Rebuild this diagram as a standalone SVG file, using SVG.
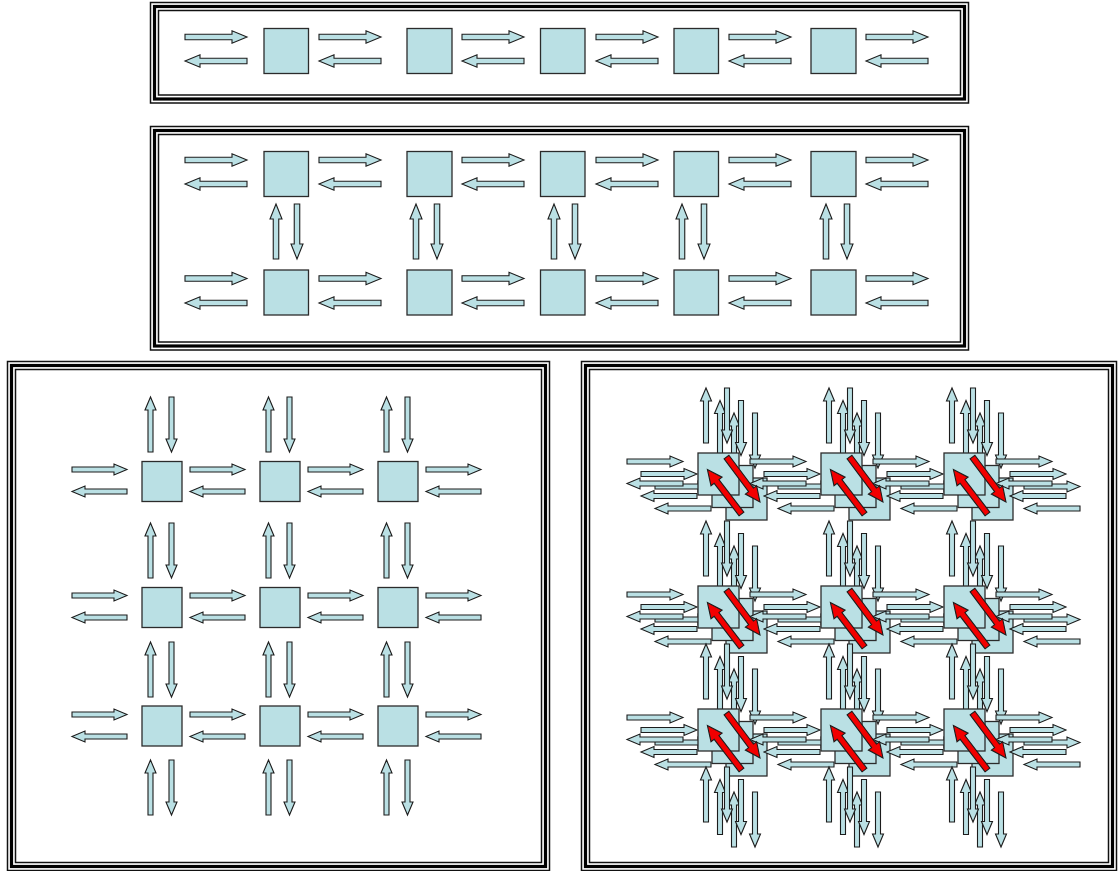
<svg xmlns="http://www.w3.org/2000/svg" width="1118" height="871" viewBox="0 0 1118 871">
<style>
.a{fill:#BAE0E4;stroke:#1c1c1c;stroke-width:1.1}
.n{fill:#BAE0E4;stroke:#2b2b2b;stroke-width:1.3}
.r{fill:#F20000;stroke:#1c1c1c;stroke-width:1.1}
.ft{fill:none;stroke:#111;stroke-width:1.5}
.fk{fill:none;stroke:#000;stroke-width:3.2}
</style>
<defs>
<path id="h62" d="M0,-2.75H47V-6.25L62,0L47,6.25V2.75H0Z"/>
<path id="v55" d="M0,-2.75H40V-6L55,0L40,6V2.75H0Z"/>
<path id="h55" d="M0,-2.5H42V-5.5L55,0L42,5.5V2.5H0Z"/>
<path id="h56" d="M0,-2.5H43V-5.5L56,0L43,5.5V2.5H0Z"/>
<path id="r55" d="M0,-3H41V-7L56,0L41,7V3H0Z"/>
<g id="m4">
<use href="#h56" x="627" y="461.5"/><use href="#h56" x="750" y="461.5"/><use href="#h56" x="873" y="461.5"/><use href="#h56" x="996" y="461.5"/>
<use href="#h56" transform="translate(683,483.5) rotate(180)"/><use href="#h56" transform="translate(806,483.5) rotate(180)"/><use href="#h56" transform="translate(929,483.5) rotate(180)"/><use href="#h56" transform="translate(1052,483.5) rotate(180)"/>
<use href="#h56" x="627" y="594.5"/><use href="#h56" x="750" y="594.5"/><use href="#h56" x="873" y="594.5"/><use href="#h56" x="996" y="594.5"/>
<use href="#h56" transform="translate(683,616.5) rotate(180)"/><use href="#h56" transform="translate(806,616.5) rotate(180)"/><use href="#h56" transform="translate(929,616.5) rotate(180)"/><use href="#h56" transform="translate(1052,616.5) rotate(180)"/>
<use href="#h56" x="627" y="717.5"/><use href="#h56" x="750" y="717.5"/><use href="#h56" x="873" y="717.5"/><use href="#h56" x="996" y="717.5"/>
<use href="#h56" transform="translate(683,739.5) rotate(180)"/><use href="#h56" transform="translate(806,739.5) rotate(180)"/><use href="#h56" transform="translate(929,739.5) rotate(180)"/><use href="#h56" transform="translate(1052,739.5) rotate(180)"/>
<use href="#h55" transform="translate(706,443) rotate(-90)"/><use href="#h55" transform="translate(829,443) rotate(-90)"/><use href="#h55" transform="translate(952,443) rotate(-90)"/>
<use href="#h55" transform="translate(727,388) rotate(90)"/><use href="#h55" transform="translate(850,388) rotate(90)"/><use href="#h55" transform="translate(973,388) rotate(90)"/>
<use href="#h55" transform="translate(706,576) rotate(-90)"/><use href="#h55" transform="translate(829,576) rotate(-90)"/><use href="#h55" transform="translate(952,576) rotate(-90)"/>
<use href="#h55" transform="translate(727,521) rotate(90)"/><use href="#h55" transform="translate(850,521) rotate(90)"/><use href="#h55" transform="translate(973,521) rotate(90)"/>
<use href="#h55" transform="translate(706,699) rotate(-90)"/><use href="#h55" transform="translate(829,699) rotate(-90)"/><use href="#h55" transform="translate(952,699) rotate(-90)"/>
<use href="#h55" transform="translate(727,644) rotate(90)"/><use href="#h55" transform="translate(850,644) rotate(90)"/><use href="#h55" transform="translate(973,644) rotate(90)"/>
<use href="#h55" transform="translate(706,822) rotate(-90)"/><use href="#h55" transform="translate(829,822) rotate(-90)"/><use href="#h55" transform="translate(952,822) rotate(-90)"/>
<use href="#h55" transform="translate(727,767) rotate(90)"/><use href="#h55" transform="translate(850,767) rotate(90)"/><use href="#h55" transform="translate(973,767) rotate(90)"/>
</g>
</defs>
<rect width="1118" height="871" fill="#fff"/>

<!-- Frames -->
<g id="frames">
<rect class="ft" x="150.5" y="2.5" width="818" height="100.5"/>
<rect class="fk" x="154.5" y="6.5" width="810" height="92.5"/>
<rect class="ft" x="158.5" y="10.5" width="802" height="84.5"/>
<rect class="ft" x="150.5" y="126.5" width="818" height="223.5"/>
<rect class="fk" x="154.5" y="130.5" width="810" height="215.5"/>
<rect class="ft" x="158.5" y="134.5" width="802" height="207.5"/>
<rect class="ft" x="7.5" y="361.5" width="542" height="509"/>
<rect class="fk" x="11.5" y="365.5" width="534" height="501"/>
<rect class="ft" x="15.5" y="369.5" width="526" height="493"/>
<rect class="ft" x="581.5" y="361.5" width="535" height="509"/>
<rect class="fk" x="585.5" y="365.5" width="527" height="501"/>
<rect class="ft" x="589.5" y="369.5" width="519" height="493"/>
</g>

<!-- Panel 1 -->
<g id="p1-connectors" class="a">
<use href="#h62" x="185" y="37"/><use href="#h62" x="319" y="37"/><use href="#h62" x="462" y="37"/><use href="#h62" x="596" y="37"/><use href="#h62" x="729" y="37"/><use href="#h62" x="866" y="37"/>
<use href="#h62" transform="translate(247,61) rotate(180)"/><use href="#h62" transform="translate(381,61) rotate(180)"/><use href="#h62" transform="translate(524,61) rotate(180)"/><use href="#h62" transform="translate(658,61) rotate(180)"/><use href="#h62" transform="translate(791,61) rotate(180)"/><use href="#h62" transform="translate(928,61) rotate(180)"/>
</g>
<g id="p1-n1"><rect class="n" x="264" y="28.5" width="44.5" height="45"/></g>
<g id="p1-n2"><rect class="n" x="407" y="28.5" width="45" height="45"/></g>
<g id="p1-n3"><rect class="n" x="540.5" y="28.5" width="44.5" height="45"/></g>
<g id="p1-n4"><rect class="n" x="674" y="28.5" width="44.5" height="45"/></g>
<g id="p1-n5"><rect class="n" x="811" y="28.5" width="45" height="45"/></g>

<!-- Panel 2 -->
<g id="p2-connectors" class="a">
<use href="#h62" x="185" y="160"/><use href="#h62" x="319" y="160"/><use href="#h62" x="462" y="160"/><use href="#h62" x="596" y="160"/><use href="#h62" x="729" y="160"/><use href="#h62" x="866" y="160"/>
<use href="#h62" transform="translate(247,184) rotate(180)"/><use href="#h62" transform="translate(381,184) rotate(180)"/><use href="#h62" transform="translate(524,184) rotate(180)"/><use href="#h62" transform="translate(658,184) rotate(180)"/><use href="#h62" transform="translate(791,184) rotate(180)"/><use href="#h62" transform="translate(928,184) rotate(180)"/>
<use href="#h62" x="185" y="278.5"/><use href="#h62" x="319" y="278.5"/><use href="#h62" x="462" y="278.5"/><use href="#h62" x="596" y="278.5"/><use href="#h62" x="729" y="278.5"/><use href="#h62" x="866" y="278.5"/>
<use href="#h62" transform="translate(247,303) rotate(180)"/><use href="#h62" transform="translate(381,303) rotate(180)"/><use href="#h62" transform="translate(524,303) rotate(180)"/><use href="#h62" transform="translate(658,303) rotate(180)"/><use href="#h62" transform="translate(791,303) rotate(180)"/><use href="#h62" transform="translate(928,303) rotate(180)"/>
<use href="#v55" transform="translate(276,259) rotate(-90)"/><use href="#v55" transform="translate(297,204) rotate(90)"/>
<use href="#v55" transform="translate(416,259) rotate(-90)"/><use href="#v55" transform="translate(437,204) rotate(90)"/>
<use href="#v55" transform="translate(554,259) rotate(-90)"/><use href="#v55" transform="translate(575,204) rotate(90)"/>
<use href="#v55" transform="translate(682,259) rotate(-90)"/><use href="#v55" transform="translate(704,204) rotate(90)"/>
<use href="#v55" transform="translate(826,259) rotate(-90)"/><use href="#v55" transform="translate(847,204) rotate(90)"/>
</g>
<g id="p2-n11"><rect class="n" x="264" y="151.5" width="44.5" height="45"/></g>
<g id="p2-n12"><rect class="n" x="407" y="151.5" width="45" height="45"/></g>
<g id="p2-n13"><rect class="n" x="540.5" y="151.5" width="44.5" height="45"/></g>
<g id="p2-n14"><rect class="n" x="674" y="151.5" width="44.5" height="45"/></g>
<g id="p2-n15"><rect class="n" x="811" y="151.5" width="45" height="45"/></g>
<g id="p2-n21"><rect class="n" x="264" y="270" width="44.5" height="45"/></g>
<g id="p2-n22"><rect class="n" x="407" y="270" width="45" height="45"/></g>
<g id="p2-n23"><rect class="n" x="540.5" y="270" width="44.5" height="45"/></g>
<g id="p2-n24"><rect class="n" x="674" y="270" width="44.5" height="45"/></g>
<g id="p2-n25"><rect class="n" x="811" y="270" width="45" height="45"/></g>

<!-- Panel 3 -->
<g id="p3-connectors" class="a">
<use href="#h55" x="72" y="469.5"/><use href="#h55" x="190" y="469.5"/><use href="#h55" x="308" y="469.5"/><use href="#h55" x="426" y="469.5"/>
<use href="#h55" transform="translate(127,491.5) rotate(180)"/><use href="#h55" transform="translate(245,491.5) rotate(180)"/><use href="#h55" transform="translate(363,491.5) rotate(180)"/><use href="#h55" transform="translate(481,491.5) rotate(180)"/>
<use href="#h55" x="72" y="595.5"/><use href="#h55" x="190" y="595.5"/><use href="#h55" x="308" y="595.5"/><use href="#h55" x="426" y="595.5"/>
<use href="#h55" transform="translate(127,617.5) rotate(180)"/><use href="#h55" transform="translate(245,617.5) rotate(180)"/><use href="#h55" transform="translate(363,617.5) rotate(180)"/><use href="#h55" transform="translate(481,617.5) rotate(180)"/>
<use href="#h55" x="72" y="714.5"/><use href="#h55" x="190" y="714.5"/><use href="#h55" x="308" y="714.5"/><use href="#h55" x="426" y="714.5"/>
<use href="#h55" transform="translate(127,736.5) rotate(180)"/><use href="#h55" transform="translate(245,736.5) rotate(180)"/><use href="#h55" transform="translate(363,736.5) rotate(180)"/><use href="#h55" transform="translate(481,736.5) rotate(180)"/>
<use href="#h55" transform="translate(150.5,452) rotate(-90)"/><use href="#h55" transform="translate(268.5,452) rotate(-90)"/><use href="#h55" transform="translate(386.5,452) rotate(-90)"/>
<use href="#h55" transform="translate(171.5,397) rotate(90)"/><use href="#h55" transform="translate(289.5,397) rotate(90)"/><use href="#h55" transform="translate(407.5,397) rotate(90)"/>
<use href="#h55" transform="translate(150.5,578) rotate(-90)"/><use href="#h55" transform="translate(268.5,578) rotate(-90)"/><use href="#h55" transform="translate(386.5,578) rotate(-90)"/>
<use href="#h55" transform="translate(171.5,523) rotate(90)"/><use href="#h55" transform="translate(289.5,523) rotate(90)"/><use href="#h55" transform="translate(407.5,523) rotate(90)"/>
<use href="#h55" transform="translate(150.5,697) rotate(-90)"/><use href="#h55" transform="translate(268.5,697) rotate(-90)"/><use href="#h55" transform="translate(386.5,697) rotate(-90)"/>
<use href="#h55" transform="translate(171.5,642) rotate(90)"/><use href="#h55" transform="translate(289.5,642) rotate(90)"/><use href="#h55" transform="translate(407.5,642) rotate(90)"/>
<use href="#h55" transform="translate(150.5,815) rotate(-90)"/><use href="#h55" transform="translate(268.5,815) rotate(-90)"/><use href="#h55" transform="translate(386.5,815) rotate(-90)"/>
<use href="#h55" transform="translate(171.5,760) rotate(90)"/><use href="#h55" transform="translate(289.5,760) rotate(90)"/><use href="#h55" transform="translate(407.5,760) rotate(90)"/>
</g>
<g id="p3-n11"><rect class="n" x="142" y="461.5" width="40" height="40"/></g>
<g id="p3-n12"><rect class="n" x="260" y="461.5" width="40" height="40"/></g>
<g id="p3-n13"><rect class="n" x="378" y="461.5" width="40" height="40"/></g>
<g id="p3-n21"><rect class="n" x="142" y="587.5" width="40" height="40"/></g>
<g id="p3-n22"><rect class="n" x="260" y="587.5" width="40" height="40"/></g>
<g id="p3-n23"><rect class="n" x="378" y="587.5" width="40" height="40"/></g>
<g id="p3-n31"><rect class="n" x="142" y="706" width="40" height="40"/></g>
<g id="p3-n32"><rect class="n" x="260" y="706" width="40" height="40"/></g>
<g id="p3-n33"><rect class="n" x="378" y="706" width="40" height="40"/></g>

<!-- Panel 4: layer C (back) -->
<g id="p4-c-connectors" class="a"><use href="#m4" transform="translate(28,25)"/></g>
<g id="p4-c-nodes">
<g id="p4-n11-c"><rect class="n" x="726" y="478" width="41" height="42"/></g>
<g id="p4-n12-c"><rect class="n" x="849" y="478" width="41" height="42"/></g>
<g id="p4-n13-c"><rect class="n" x="972" y="478" width="41" height="42"/></g>
<g id="p4-n21-c"><rect class="n" x="726" y="611" width="41" height="42"/></g>
<g id="p4-n22-c"><rect class="n" x="849" y="611" width="41" height="42"/></g>
<g id="p4-n23-c"><rect class="n" x="972" y="611" width="41" height="42"/></g>
<g id="p4-n31-c"><rect class="n" x="726" y="734" width="41" height="42"/></g>
<g id="p4-n32-c"><rect class="n" x="849" y="734" width="41" height="42"/></g>
<g id="p4-n33-c"><rect class="n" x="972" y="734" width="41" height="42"/></g>
</g>
<!-- layer B -->
<g id="p4-b-connectors" class="a"><use href="#m4" transform="translate(14,12.5)"/></g>
<g id="p4-b-nodes">
<g id="p4-n11-b"><rect class="n" x="712" y="465.5" width="41" height="42"/></g>
<g id="p4-n12-b"><rect class="n" x="835" y="465.5" width="41" height="42"/></g>
<g id="p4-n13-b"><rect class="n" x="958" y="465.5" width="41" height="42"/></g>
<g id="p4-n21-b"><rect class="n" x="712" y="598.5" width="41" height="42"/></g>
<g id="p4-n22-b"><rect class="n" x="835" y="598.5" width="41" height="42"/></g>
<g id="p4-n23-b"><rect class="n" x="958" y="598.5" width="41" height="42"/></g>
<g id="p4-n31-b"><rect class="n" x="712" y="721.5" width="41" height="42"/></g>
<g id="p4-n32-b"><rect class="n" x="835" y="721.5" width="41" height="42"/></g>
<g id="p4-n33-b"><rect class="n" x="958" y="721.5" width="41" height="42"/></g>
</g>
<!-- layer A (front) -->
<g id="p4-a-connectors" class="a"><use href="#m4"/></g>
<g id="p4-a-nodes">
<g id="p4-n11-a"><rect class="n" x="698" y="453" width="41" height="42"/></g>
<g id="p4-n12-a"><rect class="n" x="821" y="453" width="41" height="42"/></g>
<g id="p4-n13-a"><rect class="n" x="944" y="453" width="41" height="42"/></g>
<g id="p4-n21-a"><rect class="n" x="698" y="586" width="41" height="42"/></g>
<g id="p4-n22-a"><rect class="n" x="821" y="586" width="41" height="42"/></g>
<g id="p4-n23-a"><rect class="n" x="944" y="586" width="41" height="42"/></g>
<g id="p4-n31-a"><rect class="n" x="698" y="709" width="41" height="42"/></g>
<g id="p4-n32-a"><rect class="n" x="821" y="709" width="41" height="42"/></g>
<g id="p4-n33-a"><rect class="n" x="944" y="709" width="41" height="42"/></g>
</g>
<!-- red inter-layer arrows -->
<g id="p4-red-connectors" class="r">
<use href="#r55" transform="translate(726.5,457) rotate(53.3)"/><use href="#r55" transform="translate(741.5,514) rotate(-127.5)"/>
<use href="#r55" transform="translate(849.5,457) rotate(53.3)"/><use href="#r55" transform="translate(864.5,514) rotate(-127.5)"/>
<use href="#r55" transform="translate(972.5,457) rotate(53.3)"/><use href="#r55" transform="translate(987.5,514) rotate(-127.5)"/>
<use href="#r55" transform="translate(726.5,590) rotate(53.3)"/><use href="#r55" transform="translate(741.5,647) rotate(-127.5)"/>
<use href="#r55" transform="translate(849.5,590) rotate(53.3)"/><use href="#r55" transform="translate(864.5,647) rotate(-127.5)"/>
<use href="#r55" transform="translate(972.5,590) rotate(53.3)"/><use href="#r55" transform="translate(987.5,647) rotate(-127.5)"/>
<use href="#r55" transform="translate(726.5,713) rotate(53.3)"/><use href="#r55" transform="translate(741.5,770) rotate(-127.5)"/>
<use href="#r55" transform="translate(849.5,713) rotate(53.3)"/><use href="#r55" transform="translate(864.5,770) rotate(-127.5)"/>
<use href="#r55" transform="translate(972.5,713) rotate(53.3)"/><use href="#r55" transform="translate(987.5,770) rotate(-127.5)"/>
</g>
</svg>
